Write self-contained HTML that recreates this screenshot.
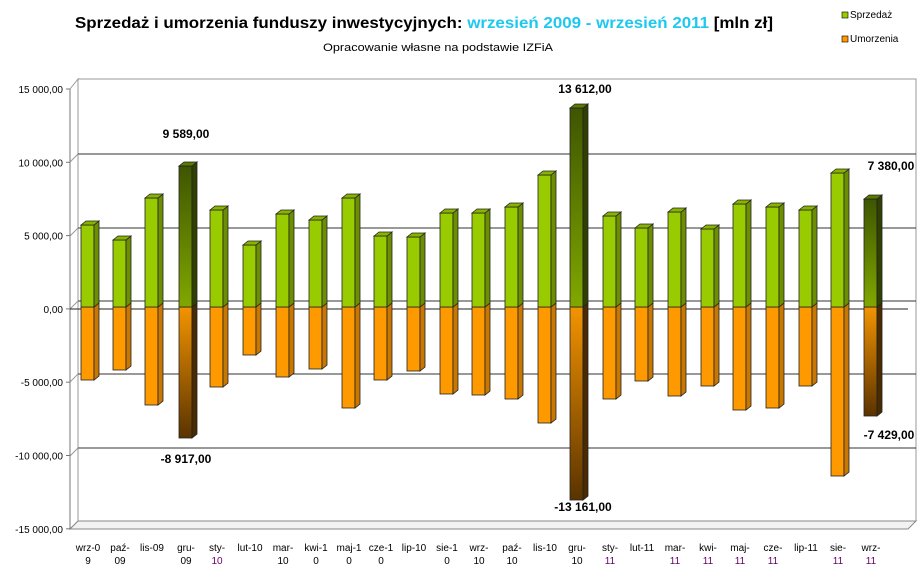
<!DOCTYPE html>
<html><head><meta charset="utf-8"><style>
body{margin:0;background:#fff;width:924px;height:579px;overflow:hidden}
svg{font-family:"Liberation Sans",sans-serif}
</style></head><body>
<svg id="s" width="924" height="579" xmlns="http://www.w3.org/2000/svg">
<defs>
<linearGradient id="dg" x1="0" y1="0" x2="0" y2="1"><stop offset="0" stop-color="#3f5500"/><stop offset="1" stop-color="#80a800"/></linearGradient>
<linearGradient id="db" x1="0" y1="0" x2="0" y2="1"><stop offset="0" stop-color="#f39400"/><stop offset="1" stop-color="#5a3300"/></linearGradient>
</defs>
<text x="75" y="28" font-size="16" font-weight="bold" textLength="698" lengthAdjust="spacingAndGlyphs">Sprzedaż i umorzenia funduszy inwestycyjnych: <tspan fill="#1ec8f0">wrzesień 2009 - wrzesień 2011</tspan> [mln zł]</text>
<text x="323" y="51" font-size="11" textLength="230" lengthAdjust="spacingAndGlyphs">Opracowanie własne na podstawie IZFiA</text>
<rect x="842" y="12" width="6" height="6" fill="#99cc00" stroke="#000" stroke-width="0.6"/><text x="850" y="18" font-size="10">Sprzedaż</text>
<rect x="842" y="36" width="6" height="6" fill="#ff9900" stroke="#000" stroke-width="0.6"/><text x="850" y="42" font-size="10">Umorzenia</text>
<g id="g"></g>
</svg>
<script>
var g=document.getElementById('g'),h='';
h+='<polygon points="70,89 78,79 78,521 70,529" fill="#fff" stroke="#999"/>';
h+='<polyline points="78,79 916,79 916,521" fill="none" stroke="#999"/>';
var gy=[154,228,301,374,448];
gy.forEach(function(y){h+='<line x1="78" y1="'+y+'" x2="916" y2="'+y+'" stroke="#333" stroke-width="1"/><line x1="70" y1="'+(y+8)+'" x2="78" y2="'+y+'" stroke="#999"/>';});
h+='<polygon points="70,529 78,521 916,521 908,529" fill="#f2f2f2" stroke="#888"/>';
h+='<line x1="70" y1="89" x2="70" y2="529" stroke="#777"/>';
h+='<line x1="70" y1="309" x2="908" y2="309" stroke="#222"/>';
var lab=['15 000,00','10 000,00','5 000,00','0,00','-5 000,00','-10 000,00','-15 000,00'];
for(var i=0;i<7;i++){var y=89+i*73.3;h+='<line x1="66" y1="'+y+'" x2="70" y2="'+y+'" stroke="#777"/><text x="63" y="'+(y+4)+'" font-size="10" text-anchor="end">'+lab[i]+'</text>';}
var xs=[88,120,152,186,217,250,283,316,349,381,414,447,479,512,545,577,610,642,675,708,740,773,806,838,871];
var tp=[225,240,198,166,210,245,214,220,198,236,237,213,213,207,175,108,216,228,212,229,204,207,210,173,199];
var bt=[380,370,405,438,387,355,377,369,408,380,371,394,395,399,423,500,399,381,396,386,410,408,386,476,416];
var hi={3:1,15:1,24:1};
var c1=['wrz-0','paź-','lis-09','gru-','sty-','lut-10','mar-','kwi-1','maj-1','cze-1','lip-10','sie-1','wrz-','paź-','lis-10','gru-','sty-','lut-11','mar-','kwi-','maj-','cze-','lip-11','sie-','wrz-'];
var c2=['9','09','','09','10','','10','0','0','0','','0','10','10','','10','11','','11','11','11','11','','11','11'];
function bar(x,y1,y2,f,sd,tpf){var w=13,d=5;
 var s='<rect x="'+x+'" y="'+y1+'" width="'+w+'" height="'+(y2-y1)+'" fill="'+f+'" stroke="#222" stroke-width="0.8"/>';
 s+='<polygon points="'+(x+w)+','+y1+' '+(x+w+d)+','+(y1-4)+' '+(x+w+d)+','+(y2-4)+' '+(x+w)+','+y2+'" fill="'+sd+'" stroke="#222" stroke-width="0.8"/>';
 if(tpf)s+='<polygon points="'+x+','+y1+' '+(x+d)+','+(y1-4)+' '+(x+w+d)+','+(y1-4)+' '+(x+w)+','+y1+'" fill="'+tpf+'" stroke="#222" stroke-width="0.8"/>';
 return s;}
for(var i=0;i<25;i++){var x=xs[i]-7,H=hi[i];
 h+=bar(x,307,bt[i],H?'url(#db)':'#ff9900',H?'#4a2a00':'#c87800',null);
 h+=bar(x,tp[i],307,H?'url(#dg)':'#99cc00',H?'#2f4000':'#6b8f00',H?'#5a7a00':'#88b400');
 h+='<text x="'+xs[i]+'" y="551" font-size="10" text-anchor="middle">'+c1[i]+'</text>';
 h+='<text x="'+xs[i]+'" y="564" font-size="10" text-anchor="middle" fill="'+(i==4||i>=16?'#660066':'#000')+'">'+c2[i]+'</text>';}
var vl=[[186,138,'9 589,00'],[585,93,'13 612,00'],[891,170,'7 380,00'],[186,463,'-8 917,00'],[583,511,'-13 161,00'],[889,439,'-7 429,00']];
vl.forEach(function(v){h+='<text x="'+v[0]+'" y="'+v[1]+'" font-size="12" font-weight="bold" text-anchor="middle">'+v[2]+'</text>';});
g.innerHTML=h;
</script>
</body></html>
